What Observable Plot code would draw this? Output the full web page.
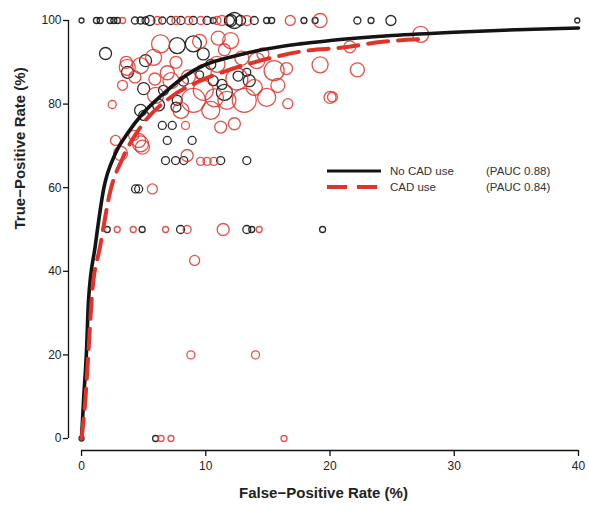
<!DOCTYPE html>
<html>
<head>
<meta charset="utf-8">
<script src="https://cdn.jsdelivr.net/npm/d3@7"></script>
<script src="https://cdn.jsdelivr.net/npm/@observablehq/plot@0.6"></script>
<style>
  html, body { margin: 0; padding: 0; background: #fff; }
  #wrap { position: relative; width: 589px; height: 510px; font-family: "Liberation Sans", Arial, sans-serif; }
  #legend { position: absolute; left: 326px; top: 163px; font-size: 11.5px; color: #333; }
  #legend .row { display: flex; align-items: center; height: 16px; }
  #legend .lab { width: 96px; margin-left: 8px; }
</style>
</head>
<body>
<div id="wrap"></div>
<script>
// Study points: [false-positive rate %, true-positive rate %, study weight]
const noCadPoints = [
  [0,100,2.5],[1.2,100,3],[1.5,100,3],[2.3,100,3],[2.6,100,3],[2.9,100,3],[4.3,100,3.5],[4.75,100,3.5],
  [5.15,100,3.5],[5.5,100,5],[6.5,100,3.5],[7.2,100,4],[8.0,100,4],[9.0,100,4],[10.1,100,4],[10.6,100,3],
  [11.9,100,5],[12.0,100,6],[12.3,100,8],[12.8,100,5],[13.9,100,4],[14.9,100,3],[15.3,100,3],[17.9,100,3],
  [18.8,100,3],[22.2,100,3.5],[23.3,100,3],[24.9,100,5],[39.9,100,2.5],
  [1.93,92.1,6],[3.7,87.6,6],[5.15,90.4,6],[7.7,94,8],[9.0,94.4,8],[9.8,92,6],[5.0,83.7,6],[6.6,83.3,5],
  [7.7,80.9,5],[7.6,79.3,5],[10.6,85.6,5],[11.5,82.8,8],[13.5,85.6,6],[13.3,87.6,4],[4.75,78.5,6],[5.0,77.3,5],
  [6.2,79.8,6],[6.5,74.9,4],[7.3,74.9,4],[6.9,71.3,4],[8.9,71.3,4],[6.76,66.5,4],[7.57,66.5,4],[8.23,66.5,4],
  [11.2,66.5,4],[13.3,66.5,4],[4.35,59.7,4],[4.6,59.7,4],[11.3,84.7,5],[12.6,86.7,5],[10.4,89.5,5],[9.5,87,4],
  [8.2,85.5,5],
  [2.07,50,3],[4.88,50,3],[7.97,50,4],[13.3,50,4],[13.7,50,3],[19.4,50,3],
  [0,0,2.5],[5.96,0,3]
];
const cadPoints = [
  [3.3,100,3],[6.1,100,4],[7.6,100,4],[8.6,100,4],[9.6,100,4],[10.9,100,4],[11.3,100,5],[13.3,100,5],[16.8,100,5],[19.2,100,7],
  [2.47,79.9,4],[2.74,71.3,5],[3.14,68.2,7],[3.68,88.8,8],[4.75,89.2,8],[5.8,91.2,8],[6.36,94.4,9],[5.96,82.1,8],
  [4.75,70.5,8],[4.2,72.5,5],[8.37,74.9,4],[8.5,67.7,6],[9.58,66.3,4],[10.1,66.3,4],[10.65,66.3,4],[5.7,59.7,5],
  [9.0,80.9,12],[10.4,78.5,9],[11.7,80.9,9],[13.1,80.9,12],[12.3,75.3,6],[14.9,81.6,9],[16.6,80.1,5],[20.0,81.6,6],
  [15.5,88.0,10],[19.2,89.4,8],[14.1,90.4,8],[12.0,95.2,8],[11.0,95.8,7],[9.8,87.6,8],[8.6,86.5,7],[7.2,85.6,8],
  [9.8,83.3,10],[8.0,78.5,8],[11.2,74.5,6],[22.2,88.2,7],[20.2,81.7,5],[27.3,96.7,8],[21.6,93.7,6],
  [12.5,86,11],[10.9,89.5,8],[12.9,91,7],[13.9,84,8],[11.5,93,6],[9.5,95,7],[7.6,90,6],[14.6,92,6],[16.5,88.5,6],
  [15.8,84.5,7],[10.7,81.5,9],[6.9,87.5,7],[5.9,86,6],[3.3,84.5,5],[4.3,86.5,6],[3.6,90,6],[4.6,71.3,7],[4.9,69.7,7],
  [2.87,50,3],[4.16,50,3],[6.76,50,3],[8.5,50,4],[11.4,50,6],[14.3,50,3],
  [9.1,42.6,5],[8.8,20,4],[14.0,20,4],
  [6.4,0,3],[7.2,0,3],[16.3,0,3]
];
// Summary ROC curves: [FPR %, TPR %]
const noCadCurve = [[0,0],[0.16,9],[0.4,21],[0.56,33],[1.1,46],[1.8,60],[2.7,68],[3.7,73],[5.0,78],[6.4,82],
  [9,88],[13,92],[17.6,94.4],[20,95.2],[25,96.4],[30,97.2],[35,97.8],[40,98.2]];
const cadCurve = [[0,0],[0.3,9],[0.56,21],[0.86,35],[1.5,46],[2.3,59],[3.3,67],[4.75,74.5],[7.2,81.7],
  [9.5,85.5],[11.7,88],[14.4,90.4],[18.4,92.9],[20.6,93.4],[24.2,94.9],[27.8,95.6]];
const xTicks = [0,10,20,30,40];
const yTicks = [0,20,40,60,80,100];
const seriesNames = ["No CAD use", "CAD use"];
const pauc = ["(PAUC 0.88)", "(PAUC 0.84)"];
const xTitle = "False\u2212Positive Rate (%)";
const yTitle = "True\u2212Positive Rate (%)";

const BLACK = "#141414", RED = "#e2332b";
const xMin = -1.05, yMin = -2.87;
const toObj = d => ({fpr: d[0], tpr: d[1], w: d[2]});

const chart = Plot.plot({
  width: 589, height: 510,
  marginLeft: 68, marginRight: 11, marginTop: 20, marginBottom: 60,
  style: {fontFamily: "'Liberation Sans', Arial, sans-serif", fontSize: "12px", color: "#222", background: "white"},
  x: {domain: [xMin, 40]},
  y: {domain: [yMin, 100]},
  r: {type: "linear", domain: [0, 12], range: [0, 12]},
  marks: [
    Plot.dot(noCadPoints.map(toObj), {x: "fpr", y: "tpr", r: "w", stroke: BLACK, strokeWidth: 1.3, strokeOpacity: 0.9}),
    Plot.dot(cadPoints.map(toObj), {x: "fpr", y: "tpr", r: "w", stroke: RED, strokeWidth: 1.3, strokeOpacity: 0.85}),
    Plot.line(noCadCurve, {x: d => d[0], y: d => d[1], stroke: BLACK, strokeWidth: 3.6, curve: "monotone-x"}),
    Plot.line(cadCurve, {x: d => d[0], y: d => d[1], stroke: RED, strokeWidth: 4, strokeDasharray: "20,10", curve: "monotone-x"}),
    Plot.ruleY([yMin], {x1: xTicks[0], x2: xTicks[xTicks.length - 1], stroke: "#111", strokeWidth: 1.3}),
    Plot.ruleX([xMin], {y1: yTicks[0], y2: yTicks[yTicks.length - 1], stroke: "#111", strokeWidth: 1.3}),
    Plot.axisX({ticks: xTicks, tickSize: 6, tickPadding: 5, label: null, stroke: "#111", strokeWidth: 1.3, fontSize: 12}),
    Plot.axisY({ticks: yTicks, tickSize: 5, tickPadding: 2, label: null, stroke: "#111", strokeWidth: 1.3, fontSize: 12}),
    Plot.text([xTitle], {text: d => d, frameAnchor: "bottom", dy: 47, fontWeight: "bold", fontSize: 15, fill: "#222"}),
    Plot.text([yTitle], {text: d => d, frameAnchor: "left", dx: -48, dy: -6, rotate: -90, fontWeight: "bold", fontSize: 15, fill: "#222"})
  ]
});
const wrap = document.getElementById("wrap");
wrap.appendChild(chart);

const legend = document.createElement("div");
legend.id = "legend";
const styles = [{color: BLACK, dash: null}, {color: RED, dash: "20,10"}];
seriesNames.forEach((name, i) => {
  const row = document.createElement("div");
  row.className = "row";
  const dash = styles[i].dash ? `stroke-dasharray="${styles[i].dash}"` : "";
  row.innerHTML = `<svg width="56" height="8"><line x1="1" x2="55" y1="4" y2="4" stroke="${styles[i].color}" stroke-width="${i ? 4 : 3.2}" ${dash}/></svg>` +
    `<span class="lab">${name}</span><span>${pauc[i]}</span>`;
  legend.appendChild(row);
});
wrap.appendChild(legend);
</script>
</body>
</html>
